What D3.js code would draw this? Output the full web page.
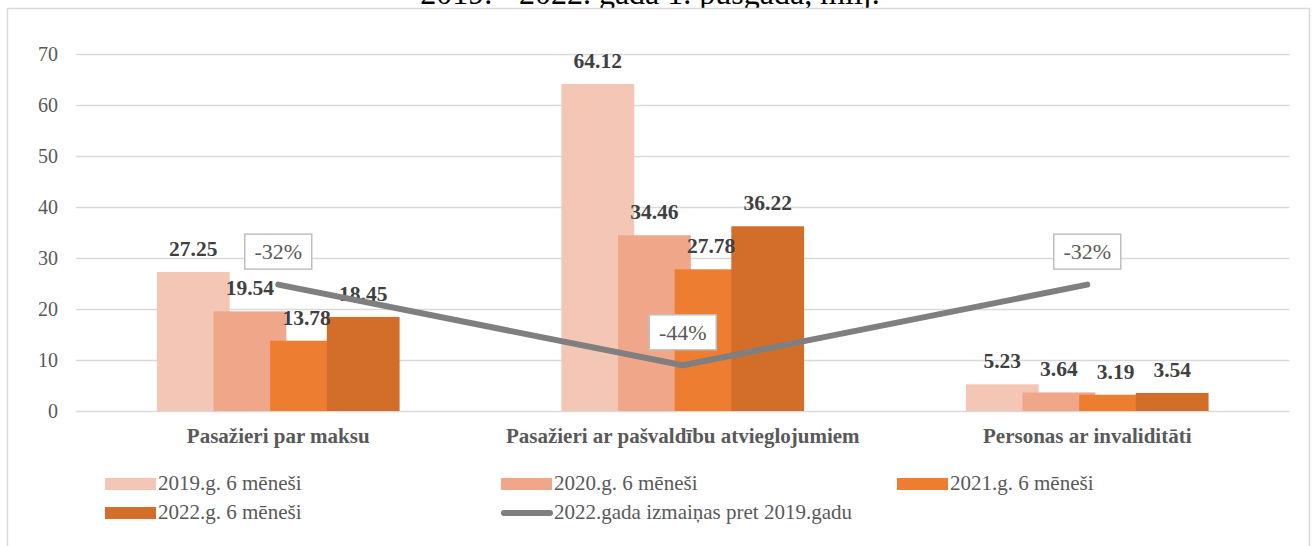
<!DOCTYPE html>
<html>
<head>
<meta charset="utf-8">
<script src="https://cdn.jsdelivr.net/npm/d3@7"></script>
<style>
  body { margin: 0; background: #fff; }
  svg { display: block; font-family: "Liberation Serif", "Times New Roman", serif; }
</style>
</head>
<body>
<script>
// chart values
let categories = ['Pasažieri par maksu', 'Pasažieri ar pašvaldību atvieglojumiem', 'Personas ar invaliditāti'];
let seriesNames = ['2019.g. 6 mēneši', '2020.g. 6 mēneši', '2021.g. 6 mēneši', '2022.g. 6 mēneši'];
let v2019 = [27.25, 64.12, 5.23];
let v2020 = [19.54, 34.46, 3.64];
let v2021 = [13.78, 27.78, 3.19];
let v2022 = [18.45, 36.22, 3.54];
let changeName = '2022.gada izmaiņas pret 2019.gadu';
let change = [-0.323, -0.436, -0.323];
let yTicks = [0, 10, 20, 30, 40, 50, 60, 70];
let title = '2019. - 2022. gada 1. pusgadā, milj.';

let colors = ['#f4c6b6', '#f0a789', '#ed7d31', '#d26e2a'];
let lineColor = '#7f7f7f';

let W = 1314, H = 546;
let margin = {top: 54, left: 76, right: 24.5, bottom: 135};
let plotW = W - margin.left - margin.right;
let plotH = H - margin.top - margin.bottom;

let series = [v2019, v2020, v2021, v2022];

let svg = d3.select('body').append('svg')
    .attr('width', W)
    .attr('height', H);

// title, mostly above the top of the page
svg.append('text')
    .attr('x', 650)
    .attr('y', 4)
    .attr('text-anchor', 'middle')
    .attr('font-size', 32)
    .attr('fill', '#000')
    .text(title);

// chart area border
svg.append('rect')
    .attr('x', 7.5).attr('y', 8.5)
    .attr('width', 1302).attr('height', 600)
    .attr('fill', '#fff')
    .attr('stroke', '#d9d9d9')
    .attr('stroke-width', 1.5);

let g = svg.append('g')
    .attr('transform', 'translate(' + margin.left + ',' + margin.top + ')');

let x = d3.scaleBand()
    .domain(categories)
    .range([0, plotW]);

let y = d3.scaleLinear()
    .domain([0, 70])
    .range([plotH, 0]);

// secondary (hidden) axis for the percentage line
let y2 = d3.scaleLinear()
    .domain([-0.5, 0])
    .range([plotH, 0]);

let yAxis = d3.axisLeft(y)
    .tickValues(yTicks)
    .tickSize(-plotW)
    .tickPadding(18);

let ax = g.append('g').call(yAxis);
ax.select('.domain').remove();
ax.selectAll('line').attr('stroke', '#d9d9d9').attr('stroke-width', 1.5);
ax.selectAll('text')
    .attr('fill', '#595959')
    .attr('font-size', 20)
    .attr('font-family', '"Liberation Serif", serif');

let barW = x.bandwidth() * 0.18;
let step = x.bandwidth() * 0.14;

function barCenter(cat, i) {
  return x(cat) + x.bandwidth() / 2 + (i - 1.5) * step;
}

series.forEach(function(vals, i) {
  let sg = g.append('g');
  sg.selectAll('rect')
      .data(vals)
    .enter().append('rect')
      .attr('x', function(d, j){ return barCenter(categories[j], i) - barW / 2; })
      .attr('y', function(d){ return y(d); })
      .attr('width', barW)
      .attr('height', function(d){ return plotH - y(d); })
      .attr('fill', colors[i]);
});

// data labels above bars
series.forEach(function(vals, i) {
  g.append('g').selectAll('text')
      .data(vals)
    .enter().append('text')
      .attr('x', function(d, j){ return barCenter(categories[j], i); })
      .attr('y', function(d){ return y(d) - 16; })
      .attr('text-anchor', 'middle')
      .attr('font-size', 21.5)
      .attr('font-weight', 'bold')
      .attr('fill', '#404040')
      .text(function(d){ return d.toFixed(2); });
});

// change line
let line = d3.line()
    .x(function(d, j){ return x(categories[j]) + x.bandwidth() / 2; })
    .y(function(d){ return y2(d); });

g.append('path')
    .datum(change)
    .attr('d', line)
    .attr('fill', 'none')
    .attr('stroke', lineColor)
    .attr('stroke-width', 6)
    .attr('stroke-linecap', 'round')
    .attr('stroke-linejoin', 'round');

let boxes = g.append('g').selectAll('g')
    .data(change)
  .enter().append('g')
    .attr('transform', function(d, j){
      return 'translate(' + (x(categories[j]) + x.bandwidth() / 2) + ',' + (y2(d) - 33) + ')';
    });

boxes.append('rect')
    .attr('x', -33.5).attr('y', -17.5)
    .attr('width', 67).attr('height', 35)
    .attr('fill', '#fff')
    .attr('stroke', '#bfbfbf')
    .attr('stroke-width', 1.5);

boxes.append('text')
    .attr('text-anchor', 'middle')
    .attr('dy', '0.35em')
    .attr('font-size', 22)
    .attr('fill', '#595959')
    .text(function(d){ return Math.round(d * 100) + '%'; });

// category labels
g.append('g').selectAll('text')
    .data(categories)
  .enter().append('text')
    .attr('x', function(d){ return x(d) + x.bandwidth() / 2; })
    .attr('y', 443 - margin.top)
    .attr('text-anchor', 'middle')
    .attr('font-size', 21)
    .attr('font-weight', 'bold')
    .attr('fill', '#595959')
    .text(function(d){ return d; });

// legend
let legendItems = seriesNames.map(function(n, i){ return {name: n, color: colors[i], type: 'bar'}; });
legendItems.push({name: changeName, color: lineColor, type: 'line'});
let legendCols = [105, 501, 897];
let legendRows = [490, 519];

let lg = svg.append('g').selectAll('g')
    .data(legendItems)
  .enter().append('g')
    .attr('transform', function(d, i){
      return 'translate(' + legendCols[i % 3] + ',' + legendRows[Math.floor(i / 3)] + ')';
    });

lg.filter(function(d){ return d.type === 'bar'; })
  .append('rect')
    .attr('x', 0).attr('y', -12)
    .attr('width', 51).attr('height', 12)
    .attr('fill', function(d){ return d.color; });

lg.filter(function(d){ return d.type === 'line'; })
  .append('line')
    .attr('x1', 3).attr('x2', 49)
    .attr('y1', -6).attr('y2', -6)
    .attr('stroke', function(d){ return d.color; })
    .attr('stroke-width', 6)
    .attr('stroke-linecap', 'round');

lg.append('text')
    .attr('x', 53)
    .attr('font-size', 21)
    .attr('fill', '#595959')
    .text(function(d){ return d.name; });
</script>
</body>
</html>
